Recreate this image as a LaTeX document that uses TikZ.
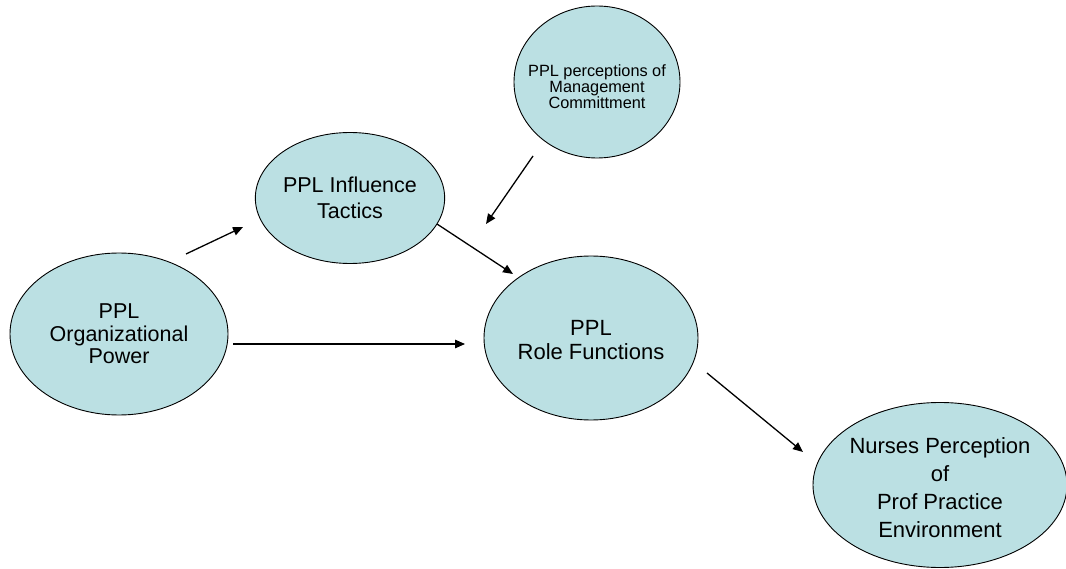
\documentclass[tikz,border=0pt]{standalone}
\usepackage{fontspec}
\setmainfont{Liberation Sans}
\usetikzlibrary{arrows.meta,shapes.geometric}
\definecolor{pplfill}{HTML}{BBE0E3}
\tikzset{
  oval/.style={ellipse, draw=black, line width=0.9pt, fill=pplfill, inner sep=0pt, align=center},
  conn/.style={line width=1.3pt, -{Triangle[length=10pt,width=8.5pt]}},
}
\begin{document}
\begin{tikzpicture}[x=1pt,y=-1pt]
\useasboundingbox (0,0) rectangle (1066,569);
\node[oval, minimum width=218pt, minimum height=162pt,
  font=\fontsize{21.5}{22.5}\selectfont] (org) at (119,334) {PPL\\Organizational\\Power};
\node[oval, minimum width=175pt, minimum height=131pt,
  font=\fontsize{21.5}{26}\selectfont] (tac) at (350,198) {PPL Influence\\Tactics};
\node[oval, minimum width=166pt, minimum height=152pt] (com) at (597,82) {};
\node[font=\fontsize{16.3}{14.5}\selectfont, align=center] (comtext) at (597,87)
  {PPL perceptions of\\Management\\Committment};
\node[oval, minimum width=214pt, minimum height=164pt] (role) at (591,338) {};
\node[font=\fontsize{22}{23.5}\selectfont, align=center] (roletext) at (591,340) {PPL\\Role Functions};
\node[oval, minimum width=254pt, minimum height=165pt] (nur) at (940,485) {};
\node[font=\fontsize{22}{28}\selectfont, align=center] (nurtext) at (940,488)
  {Nurses Perception\\of\\Prof Practice\\Environment};
% connector end points
\coordinate (a1s) at (186,254); \coordinate (a1e) at (243,227);
\coordinate (a2s) at (233,344); \coordinate (a2e) at (465,344);
\coordinate (a3s) at (437,224); \coordinate (a3e) at (513,274);
\coordinate (a4s) at (533,156); \coordinate (a4e) at (486,224);
\coordinate (a5s) at (707,373); \coordinate (a5e) at (803,452);
\draw[conn] (a1s) -- (a1e);
\draw[conn] (a2s) -- (a2e);
\draw[conn] (a3s) -- (a3e);
\draw[conn] (a4s) -- (a4e);
\draw[conn] (a5s) -- (a5e);
\end{tikzpicture}
\end{document}
